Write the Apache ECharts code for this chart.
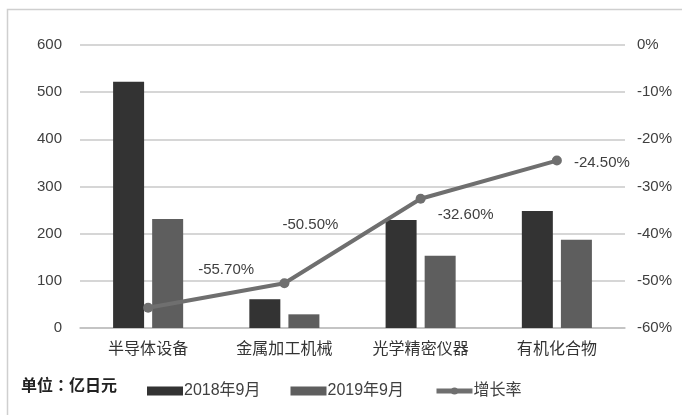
<!DOCTYPE html>
<html><head><meta charset="utf-8">
<script src="https://cdn.jsdelivr.net/npm/echarts@6/dist/echarts.min.js"></script>
<style>html,body{margin:0;padding:0;background:#fff}#c{width:682px;height:415px}</style>
</head><body><div id="c"></div>
<script>
var categories = ['半导体设备','金属加工机械','光学精密仪器','有机化合物'];
var v2018 = [522, 61, 229, 248];
var v2019 = [231, 29, 153, 187];
var growth = [-55.7, -50.5, -32.6, -24.5];
var growthLabels = ['-55.70%','-50.50%','-32.60%','-24.50%'];
var labelOffsets = [[78,-38],[26,-58],[45,16],[45,2]];

var font = '"Liberation Sans","Noto Sans CJK SC",sans-serif';
var chart = echarts.init(document.getElementById('c'));
chart.setOption({
  animation:false,
  backgroundColor:'#fff',
  textStyle:{fontFamily:font},
  graphic:[
    {type:'rect',shape:{x:7.5,y:9.5,width:700,height:420},style:{fill:'none',stroke:'#cfcfcf',lineWidth:1.5},silent:true},
    {type:'text',left:21,top:377,style:{text:'单位：亿日元',font:'bold 16px "Noto Sans CJK TC"',fill:'#222'}}
  ],
  legend:{
    left:142, top:378, itemWidth:36, itemHeight:9, itemGap:30,
    textStyle:{fontSize:16,color:'#404040',fontFamily:font,padding:[0,0,0,-4]},
    data:[{name:'2018年9月',icon:'rect'},{name:'2019年9月',icon:'rect'},
      {name:'增长率',lineStyle:{width:5,color:'#6f6f6f'},itemStyle:{color:'#6f6f6f'}}]
  },
  grid:{left:80,right:57,top:45,bottom:87},
  xAxis:{type:'category',data:categories,
    axisLine:{lineStyle:{color:'#bfbfbf',width:1.5}},axisTick:{show:false},
    axisLabel:{fontSize:16,color:'#333',margin:12,fontFamily:'"Noto Sans CJK SC"'}},
  yAxis:[
    {type:'value',min:0,max:600,interval:100,
     axisLine:{show:false},axisTick:{show:false},
     splitLine:{lineStyle:{color:'#c8c8c8',width:1.5}},
     axisLabel:{fontSize:15,color:'#404040',margin:18}},
    {type:'value',min:-60,max:0,interval:10,
     axisLine:{show:false},axisTick:{show:false},splitLine:{show:false},
     axisLabel:{fontSize:15,color:'#404040',margin:12,formatter:function(v){return v+'%';}}}
  ],
  series:[
    {name:'2018年9月',type:'bar',data:v2018,barWidth:31,barGap:'26%',itemStyle:{color:'#333333'}},
    {name:'2019年9月',type:'bar',data:v2019,barWidth:31,barGap:'26%',itemStyle:{color:'#5e5e5e'}},
    {name:'增长率',type:'line',yAxisIndex:1,
     data:growth.map(function(g,i){return {value:g,label:{offset:labelOffsets[i]}};}),
     symbol:'circle',symbolSize:10,
     lineStyle:{color:'#6f6f6f',width:4},itemStyle:{color:'#6f6f6f'},
     label:{show:true,position:'inside',fontSize:15,color:'#404040',
       formatter:function(p){return growthLabels[p.dataIndex];}}}
  ]
});
</script></body></html>
